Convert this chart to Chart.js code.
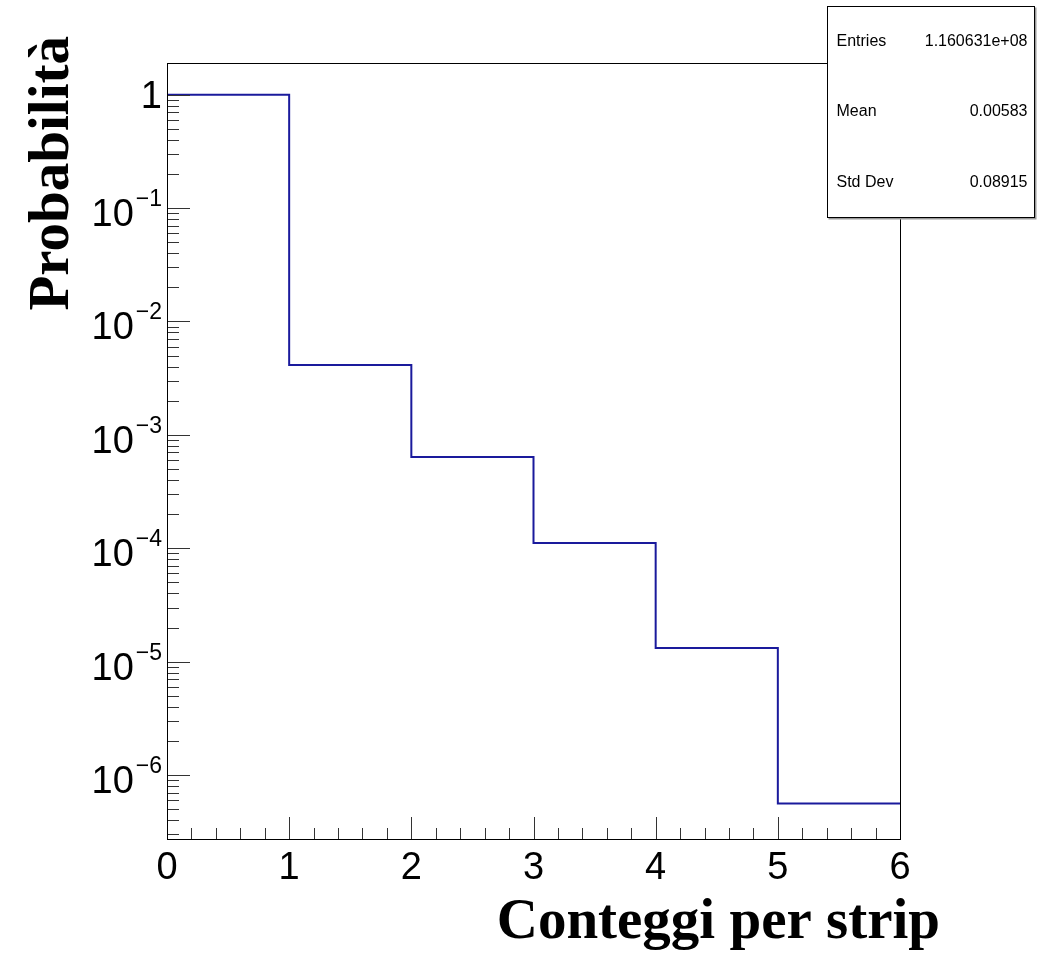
<!DOCTYPE html>
<html>
<head>
<meta charset="utf-8">
<title>Conteggi per strip</title>
<script src="https://cdn.jsdelivr.net/npm/chart.js@4.4.1/dist/chart.umd.min.js"></script>
<style>
  html, body { margin: 0; padding: 0; background: #fff; }
  #wrap { position: relative; width: 1043px; height: 956px; }
</style>
</head>
<body>
<div id="wrap"><canvas id="histo"></canvas></div>
<script>
// istogramma dei conteggi per strip (asse y logaritmico)
const binEdges = [0, 1, 2, 3, 4, 5, 6];
const probabilities = [0.9951, 4.13e-3, 6.38e-4, 1.11e-4, 1.32e-5, 5.6e-7];
const yDecadeExponents = [0, -1, -2, -3, -4, -5, -6];
const yRange = [2.73e-7, 1.9];

const statsNames = ["Entries", "Mean", "Std Dev"];
const statsValues = ["1.160631e+08", "0.00583", "0.08915"];

const xTitle = "Conteggi per strip";
const yTitle = "Probabilità";

// un punto per ogni bordo di bin, l'ultimo ripete il valore dell'ultimo bin
const points = binEdges.map((x, i) => ({
  x,
  y: probabilities[Math.min(i, probabilities.length - 1)]
}));

const SANS = "'Liberation Sans', Arial, Helvetica, sans-serif";
const SERIF = "'Liberation Serif', 'Times New Roman', serif";

// cornice, tacche interne, etichette y con esponente, titoli e box statistiche
const rootStyle = {
  id: "rootStyle",
  afterDraw(chart) {
    const { ctx, chartArea: a } = chart;
    const xs = chart.scales.x;
    const ys = chart.scales.y;
    ctx.save();

    // tacche asse x
    ctx.strokeStyle = "#333";
    ctx.lineWidth = 1;
    ctx.beginPath();
    for (let i = 0; i <= 30; i++) {
      const v = i * 0.2;
      const px = Math.round(xs.getPixelForValue(v)) + 0.5;
      const len = i % 5 === 0 ? 22 : 11;
      ctx.moveTo(px, a.bottom);
      ctx.lineTo(px, a.bottom - len);
    }
    // tacche asse y (decadi + minori)
    for (let e = -7; e <= 0; e++) {
      for (let k = 1; k <= 9; k++) {
        const v = k * Math.pow(10, e);
        if (v < ys.min || v > ys.max) continue;
        const py = Math.round(ys.getPixelForValue(v)) + 0.5;
        const len = k === 1 ? 23 : 12;
        ctx.moveTo(a.left, py);
        ctx.lineTo(a.left + len, py);
      }
    }
    ctx.stroke();

    // cornice
    ctx.strokeStyle = "#000";
    ctx.strokeRect(Math.round(a.left) + 0.5, Math.round(a.top) + 0.5,
      Math.round(a.right - a.left), Math.round(a.bottom - a.top));

    // etichette y: 1, 10^-1, ...
    ctx.fillStyle = "#000";
    const right = a.left - 5;
    yDecadeExponents.forEach((e) => {
      const py = ys.getPixelForValue(Math.pow(10, e));
      if (e === 0) {
        ctx.font = "38px " + SANS;
        ctx.textAlign = "right";
        ctx.textBaseline = "alphabetic";
        ctx.fillText("1", right, py + 13);
        return;
      }
      const expText = "\u2212" + Math.abs(e);
      ctx.font = "23px " + SANS;
      const wExp = ctx.measureText(expText).width;
      ctx.textAlign = "right";
      ctx.textBaseline = "alphabetic";
      ctx.fillText(expText, right, py - 2);
      ctx.font = "38px " + SANS;
      ctx.fillText("10", right - wExp - 2, py + 18);
    });

    // titoli degli assi
    ctx.font = "bold 57px " + SERIF;
    ctx.textAlign = "right";
    ctx.textBaseline = "alphabetic";
    ctx.fillText(xTitle, 940, 938);

    ctx.save();
    ctx.translate(68, 36);
    ctx.rotate(-Math.PI / 2);
    ctx.textAlign = "right";
    ctx.fillText(yTitle, 0, 0);
    ctx.restore();

    // box statistiche
    const bx = 827.5, by = 6.5, bw = 207, bh = 211;
    ctx.fillStyle = "#999";
    ctx.fillRect(bx + 1, by + 1, bw + 1, bh + 1);
    ctx.fillStyle = "#fff";
    ctx.fillRect(bx, by, bw, bh);
    ctx.strokeStyle = "#000";
    ctx.strokeRect(bx, by, bw, bh);
    ctx.fillStyle = "#000";
    ctx.font = "16px " + SANS;
    ctx.textBaseline = "middle";
    const rowH = bh / statsNames.length;
    statsNames.forEach((name, i) => {
      const cy = by + rowH * (i + 0.5);
      ctx.textAlign = "left";
      ctx.fillText(name, bx + 9, cy);
      ctx.textAlign = "right";
      ctx.fillText(statsValues[i], bx + bw - 7, cy);
    });

    ctx.restore();
  }
};

new Chart(document.getElementById("histo").getContext("2d"), {
  type: "line",
  data: {
    datasets: [{
      data: points,
      stepped: true,
      borderColor: "#1a1a9c",
      borderWidth: 2,
      pointRadius: 0,
      fill: false
    }]
  },
  options: {
    responsive: true,
    maintainAspectRatio: false,
    animation: false,
    layout: { padding: { left: 167, right: 143, top: 63, bottom: 0 } },
    plugins: { legend: { display: false }, tooltip: { enabled: false } },
    scales: {
      x: {
        type: "linear",
        min: 0,
        max: 6,
        grid: { display: false, drawTicks: false },
        border: { display: false },
        ticks: {
          stepSize: 1,
          maxRotation: 0,
          padding: 7,
          color: "#000",
          font: { family: SANS, size: 38 }
        },
        afterFit: (s) => { s.height = 117; }
      },
      y: {
        type: "logarithmic",
        display: false,
        min: yRange[0],
        max: yRange[1]
      }
    }
  },
  plugins: [rootStyle]
});
</script>
</body>
</html>
